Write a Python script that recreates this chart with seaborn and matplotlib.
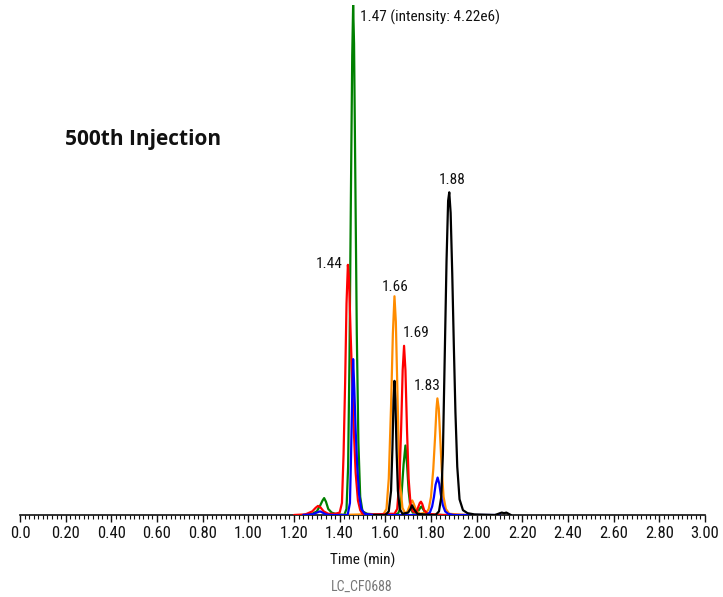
import matplotlib
matplotlib.use("Agg")
import matplotlib.pyplot as plt
from matplotlib import font_manager
from matplotlib.ticker import MultipleLocator, FixedLocator
import pandas as pd
import seaborn as sns

# chromatogram traces, time (min) vs intensity (x1e6)
green_t = [1.24, 1.28, 1.30, 1.315, 1.325, 1.332, 1.34, 1.35, 1.365, 1.38, 1.42, 1.43, 1.437, 1.443, 1.449,
           1.455, 1.459, 1.463, 1.469, 1.475, 1.482, 1.49, 1.50, 1.52, 1.60, 1.655, 1.665, 1.672, 1.68,
           1.688, 1.695, 1.702, 1.71, 1.72, 1.74, 1.75, 1.755, 1.759, 1.765, 1.775, 1.79, 1.85, 1.90]
green_i = [0, 0.01, 0.03, 0.08, 0.12, 0.14, 0.11, 0.05, 0.02, 0.01, 0.0, 0.05, 0.4, 1.3, 2.6,
           3.8, 4.22, 3.9, 2.7, 1.5, 0.6, 0.15, 0.03, 0.01, 0.0, 0.01, 0.05, 0.2, 0.42,
           0.575, 0.42, 0.2, 0.06, 0.02, 0.02, 0.05, 0.065, 0.07, 0.05, 0.02, 0.005, 0.0, 0.0]

blue_t = [1.24, 1.28, 1.30, 1.314, 1.325, 1.34, 1.36, 1.435, 1.445, 1.45, 1.455, 1.459, 1.464, 1.47,
          1.477, 1.485, 1.495, 1.51, 1.55, 1.70, 1.78, 1.795, 1.805, 1.813, 1.82, 1.829, 1.836,
          1.843, 1.852, 1.862, 1.875, 1.90, 1.95, 2.02, 2.10]
blue_i = [0, 0.005, 0.02, 0.03, 0.02, 0.005, 0.0, 0.0, 0.1, 0.5, 1.0, 1.29, 1.05, 0.7,
          0.4, 0.17, 0.05, 0.01, 0.0, 0.0, 0.0, 0.02, 0.07, 0.15, 0.25, 0.31, 0.26,
          0.17, 0.08, 0.03, 0.01, 0.0, 0.0, 0.0, 0.0]

red_t = [1.20, 1.25, 1.28, 1.295, 1.305, 1.315, 1.33, 1.35, 1.38, 1.40, 1.41, 1.417, 1.424, 1.43,
         1.436, 1.441, 1.448, 1.455, 1.462, 1.47, 1.48, 1.49, 1.50, 1.55, 1.62, 1.64, 1.652, 1.662,
         1.669, 1.676, 1.682, 1.688, 1.695, 1.702, 1.71, 1.72, 1.735, 1.745, 1.751, 1.756, 1.762,
         1.77, 1.785, 1.85, 1.95]
red_i = [0, 0.005, 0.03, 0.06, 0.075, 0.065, 0.03, 0.01, 0.01, 0.02, 0.1, 0.5, 1.1, 1.75,
         2.07, 1.95, 1.5, 1.1, 0.7, 0.35, 0.12, 0.04, 0.01, 0.005, 0.01, 0.01, 0.05, 0.3,
         0.7, 1.2, 1.40, 1.2, 0.7, 0.3, 0.1, 0.03, 0.02, 0.07, 0.1, 0.11, 0.09,
         0.04, 0.01, 0.0, 0.0]

orange_t = [1.40, 1.50, 1.59, 1.605, 1.615, 1.625, 1.633, 1.64, 1.646, 1.652, 1.658, 1.665, 1.675,
            1.685, 1.695, 1.705, 1.712, 1.718, 1.725, 1.735, 1.75, 1.78, 1.79, 1.80, 1.81, 1.818,
            1.824, 1.828, 1.834, 1.84, 1.847, 1.855, 1.865, 1.88, 1.95]
orange_i = [0, 0.005, 0.0, 0.05, 0.3, 0.9, 1.5, 1.81, 1.6, 1.1, 0.6, 0.25, 0.06,
            0.02, 0.02, 0.07, 0.11, 0.12, 0.09, 0.04, 0.01, 0.02, 0.05, 0.15, 0.38, 0.65,
            0.88, 0.965, 0.88, 0.65, 0.38, 0.15, 0.05, 0.01, 0.0]

black_t = [1.55, 1.60, 1.615, 1.625, 1.631, 1.636, 1.64, 1.644, 1.649, 1.655, 1.663, 1.675, 1.70,
           1.71, 1.717, 1.725, 1.74, 1.80, 1.82, 1.835, 1.845, 1.852, 1.86, 1.868, 1.875, 1.88,
           1.886, 1.893, 1.90, 1.907, 1.915, 1.925, 1.94, 1.96, 1.99, 2.08, 2.11, 2.12, 2.13, 2.15]
black_i = [0, 0.0, 0.03, 0.2, 0.55, 0.95, 1.11, 0.95, 0.55, 0.2, 0.05, 0.01, 0.02,
           0.05, 0.08, 0.05, 0.01, 0.0, 0.0, 0.03, 0.15, 0.5, 1.3, 2.1, 2.6, 2.67,
           2.5, 2.0, 1.4, 0.85, 0.4, 0.13, 0.04, 0.015, 0.005, 0.0, 0.02, 0.015, 0.02, 0.0]

traces = ["green", "orange", "red", "blue", "black"]
colors = ["#008000", "#ff8c00", "#ff0000", "#0000ff", "#000000"]

peak_labels = ["1.47 (intensity: 4.22e6)", "1.44", "1.66", "1.69", "1.83", "1.88"]
peak_label_t = [1.489, 1.415, 1.643, 1.737, 1.785, 1.892]
peak_label_i = [4.12, 2.08, 1.89, 1.51, 1.07, 2.77]
peak_label_ha = ["left", "right", "center", "center", "center", "center"]

frames = []
for name, t, i in [("green", green_t, green_i), ("blue", blue_t, blue_i), ("red", red_t, red_i),
                   ("orange", orange_t, orange_i), ("black", black_t, black_i)]:
    frames.append(pd.DataFrame({"t": t, "i": i, "trace": name}))
df = pd.concat(frames, ignore_index=True)

sns.set_style("white")
# narrow face if one is installed, else DejaVu condensed
installed = {f.name for f in font_manager.fontManager.ttflist}
family = "DejaVu Sans"
for cand in ["Roboto Condensed", "Liberation Sans Narrow", "Open Sans Condensed", "DejaVu Sans Condensed"]:
    if cand in installed:
        family = cand
        break
plt.rcParams["font.family"] = [family, "DejaVu Sans"]
plt.rcParams["font.stretch"] = "condensed"

fig = plt.figure(figsize=(7.23, 5.97), dpi=100)
ax = fig.add_axes([20 / 723, 82 / 597, 685 / 723, 510 / 597])

sns.lineplot(data=df, x="t", y="i", hue="trace", hue_order=traces, palette=colors,
             estimator=None, sort=False, legend=False, lw=1.6, ax=ax)

for lab, t, i, ha in zip(peak_labels, peak_label_t, peak_label_i, peak_label_ha):
    ax.text(t, i, lab, ha=ha, va="center", fontsize=11, color="#111111")

ax.set_xlim(0, 3.0)
ax.set_ylim(0, 4.22)
ax.set_yticks([])
ax.set_ylabel("")
ax.set_xlabel("Time (min)", fontsize=11, labelpad=8, color="#111111")
for s in ["left", "top", "right"]:
    ax.spines[s].set_visible(False)
ax.spines["bottom"].set_linewidth(1.2)
ax.spines["bottom"].set_color("#111111")
ax.spines["bottom"].set_zorder(0)

ticks = [0.0, 0.2, 0.4, 0.6, 0.8, 1.0, 1.2, 1.4, 1.6, 1.8, 2.0, 2.2, 2.4, 2.6, 2.8, 3.0]
tick_labels = ["0.0", "0.20", "0.40", "0.60", "0.80", "1.00", "1.20", "1.40", "1.60", "1.80",
               "2.00", "2.20", "2.40", "2.60", "2.80", "3.00"]
ax.xaxis.set_major_locator(FixedLocator(ticks))
ax.set_xticklabels(tick_labels, fontsize=12, color="#111111")
ax.xaxis.set_minor_locator(MultipleLocator(0.02))
ax.tick_params(axis="x", which="major", direction="out", length=5, width=1, bottom=True, pad=3,
               color="#111111")
ax.tick_params(axis="x", which="minor", direction="out", length=3, width=0.8, bottom=True,
               color="#111111")

fig.text(65 / 723, 1 - 140 / 597, "500th Injection", fontsize=15, fontweight="bold", va="center",
         color="#111111", family=["Open Sans", "DejaVu Sans"], fontstretch="normal")
fig.text(362 / 723, 1 - 587 / 597, "LC_CF0688", fontsize=10, color="#777777", ha="center", va="center")

fig.savefig("out.png", dpi=100)
